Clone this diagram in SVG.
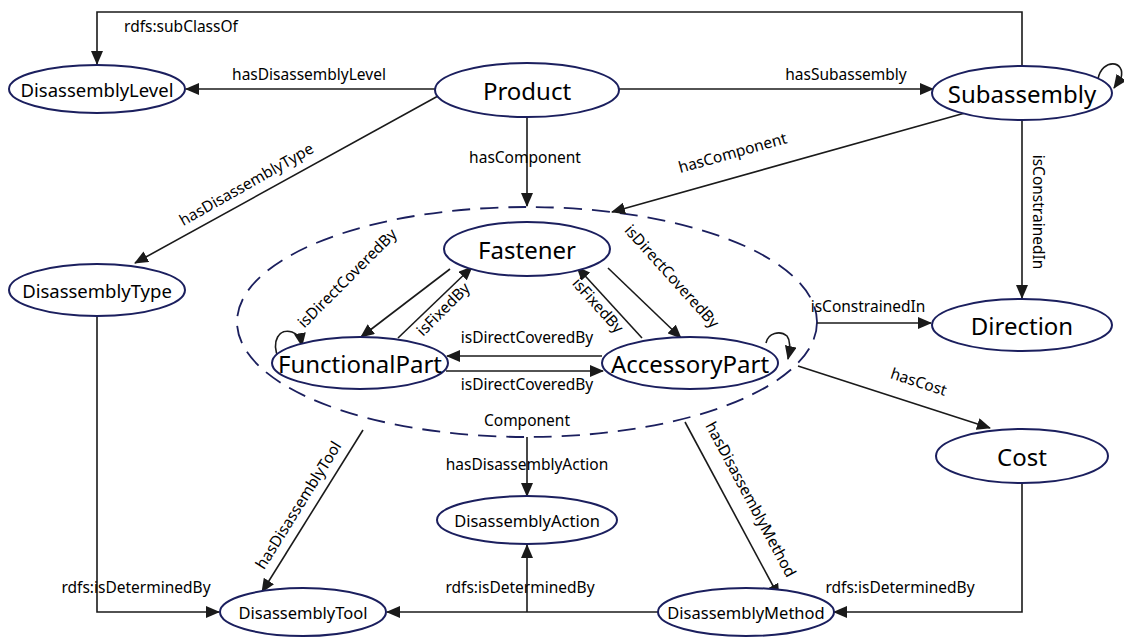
<svg xmlns="http://www.w3.org/2000/svg" width="1124" height="640" viewBox="0 0 1124 640">
  <style>
    .node { fill: #ffffff; stroke: #1b1f5e; stroke-width: 2; }
    .group { fill: none; stroke: #1b1f5e; stroke-width: 1.8; stroke-dasharray: 18 10; }
    .edge { fill: none; stroke: #1a1a1a; stroke-width: 1.6; }
    .arr { marker-end: url(#head); }
    text { font-family: "Noto Sans", "Open Sans", sans-serif; fill: #000; }
    .big { font-size: 24px; text-anchor: middle; dominant-baseline: central; }
    .mid { font-size: 18.5px; text-anchor: middle; dominant-baseline: central; }
    .small { font-size: 16.5px; text-anchor: middle; dominant-baseline: central; }
    .lbl { font-size: 15.5px; text-anchor: middle; }
  </style>
  <defs>
    <marker id="head" markerUnits="userSpaceOnUse" markerWidth="14" markerHeight="12" refX="13" refY="6" orient="auto">
      <path d="M0,0 L14,6 L0,12 Z" fill="#1a1a1a"/>
    </marker>
  </defs>

  <!-- group boundary for the Component class -->
  <g id="component">
    <ellipse class="group" cx="527" cy="322" rx="290" ry="115"/>
    <text class="lbl" x="527" y="426">Component</text>
  </g>

  <g id="connectors">
    <!-- Subassembly subClassOf DisassemblyLevel -->
    <path class="edge arr" d="M1022,66 V12 H97 V64"/>
    <text class="lbl" x="181" y="32">rdfs:subClassOf</text>

    <path class="edge arr" d="M435,89 H186"/>
    <text class="lbl" x="309" y="80">hasDisassemblyLevel</text>

    <path class="edge arr" d="M619,89 H933"/>
    <text class="lbl" x="846" y="80">hasSubassembly</text>

    <!-- Subassembly self loop -->
    <path class="edge arr" d="M1098,79 C1102,58 1126,60 1121,78 L1114,88"/>

    <path class="edge arr" d="M527,117 V206"/>
    <text class="lbl" x="525" y="163">hasComponent</text>

    <path class="edge arr" d="M965,113 L612,212"/>
    <text class="lbl" transform="translate(734,158) rotate(-15.7)">hasComponent</text>

    <path class="edge arr" d="M438,96 L135,263"/>
    <text class="lbl" transform="translate(249,189) rotate(-29.5)">hasDisassemblyType</text>

    <path class="edge arr" d="M97,316 V612 H219"/>
    <text class="lbl" x="136" y="593">rdfs:isDeterminedBy</text>

    <!-- relations between the component classes -->
    <path class="edge arr" d="M450,269 L361,337"/>
    <text class="lbl" transform="translate(351,282) rotate(-45)">isDirectCoveredBy</text>

    <path class="edge arr" d="M398,338 L472,267"/>
    <text class="lbl" transform="translate(447,313) rotate(-45)">isFixedBy</text>

    <path class="edge arr" d="M642,338 L577,267"/>
    <text class="lbl" transform="translate(594,309) rotate(48)">isFixedBy</text>

    <path class="edge arr" d="M608,268 L681,338"/>
    <text class="lbl" transform="translate(668,280) rotate(48)">isDirectCoveredBy</text>

    <path class="edge arr" d="M602,356 H447"/>
    <text class="lbl" x="527" y="343">isDirectCoveredBy</text>

    <path class="edge arr" d="M446,371 H603"/>
    <text class="lbl" x="527" y="390">isDirectCoveredBy</text>

    <!-- self loops -->
    <path class="edge arr" d="M279,360 C270,340 280,328 292,332 C298,334 301,340 302,346"/>
    <path class="edge arr" d="M766,343 C768,333 780,330 787,336 C791,341 790,350 788,359"/>

    <path class="edge arr" d="M817,323 H931"/>
    <text class="lbl" x="868" y="312">isConstrainedIn</text>

    <path class="edge arr" d="M1022,120 V298"/>
    <text class="lbl" transform="translate(1033,212) rotate(90)">isConstrainedIn</text>

    <path class="edge arr" d="M798,366 L990,428"/>
    <text class="lbl" transform="translate(917,387) rotate(17.9)">hasCost</text>

    <path class="edge arr" d="M1022,483 V612 H834"/>
    <text class="lbl" x="900" y="593">rdfs:isDeterminedBy</text>

    <path class="edge arr" d="M658,612 H387"/>
    <path class="edge arr" d="M527,612 V545"/>
    <text class="lbl" x="520" y="593">rdfs:isDeterminedBy</text>

    <path class="edge arr" d="M527,437 V496"/>
    <text class="lbl" x="527" y="470">hasDisassemblyAction</text>

    <path class="edge arr" d="M363,430 L262,592"/>
    <text class="lbl" transform="translate(303,508) rotate(-58)">hasDisassemblyTool</text>

    <path class="edge arr" d="M685,422 L779,597"/>
    <text class="lbl" transform="translate(746,502) rotate(61.8)">hasDisassemblyMethod</text>
  </g>

  <g id="DisassemblyLevel"><ellipse class="node" cx="97" cy="89" rx="88" ry="24"/><text class="mid" x="97" y="89">DisassemblyLevel</text></g>
  <g id="Product"><ellipse class="node" cx="527" cy="90" rx="92" ry="27"/><text class="big" x="527" y="90">Product</text></g>
  <g id="Subassembly"><ellipse class="node" cx="1022" cy="93" rx="90" ry="27"/><text class="big" x="1022" y="93">Subassembly</text></g>
  <g id="DisassemblyType"><ellipse class="node" cx="97" cy="290" rx="88" ry="26"/><text class="mid" x="97" y="290">DisassemblyType</text></g>
  <g id="Fastener"><ellipse class="node" cx="527" cy="249" rx="83" ry="27"/><text class="big" x="527" y="249">Fastener</text></g>
  <g id="FunctionalPart"><ellipse class="node" cx="360" cy="363" rx="88" ry="26"/><text class="big" x="360" y="363">FunctionalPart</text></g>
  <g id="AccessoryPart"><ellipse class="node" cx="690" cy="363" rx="88" ry="26"/><text class="big" x="690" y="363">AccessoryPart</text></g>
  <g id="Direction"><ellipse class="node" cx="1022" cy="325" rx="90" ry="26"/><text class="big" x="1022" y="325">Direction</text></g>
  <g id="Cost"><ellipse class="node" cx="1022" cy="456" rx="86" ry="27"/><text class="big" x="1022" y="456">Cost</text></g>
  <g id="DisassemblyAction"><ellipse class="node" cx="527" cy="520" rx="90" ry="24"/><text class="small" x="527" y="520">DisassemblyAction</text></g>
  <g id="DisassemblyTool"><ellipse class="node" cx="303" cy="612" rx="83" ry="24"/><text class="small" x="303" y="612">DisassemblyTool</text></g>
  <g id="DisassemblyMethod"><ellipse class="node" cx="746" cy="612" rx="88" ry="24"/><text class="small" x="746" y="612">DisassemblyMethod</text></g>
</svg>
